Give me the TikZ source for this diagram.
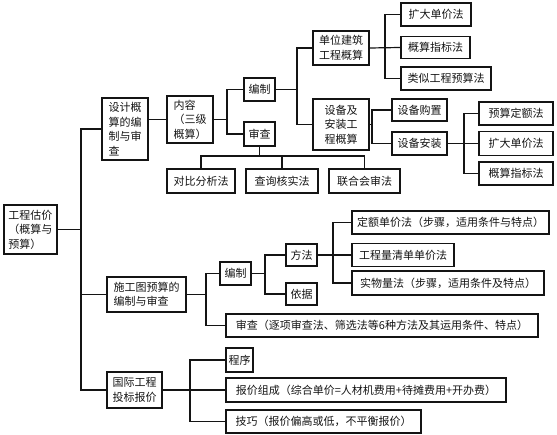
\documentclass[tikz,border=0pt]{standalone}
\usepackage{fontspec}
\setmainfont{Noto Sans CJK SC}
\usepackage{tikz}
\usetikzlibrary{positioning}
\definecolor{inkc}{RGB}{20,20,20}
\tikzset{
  box/.style={draw=inkc, line width=1.3pt, inner sep=0pt, align=left,
    text=inkc, font=\fontsize{11}{14.5}\selectfont},
  link/.style={draw=inkc, line width=1.2pt}
}

\begin{document}
\begin{tikzpicture}[x=1pt, y=-1pt]
  \useasboundingbox (0,0) rectangle (557,435);
  \node[box, minimum width=53pt, minimum height=49pt] (root) at (30.5,229.5) {工程估价\\（概算与\\预算）};
  \node[box, minimum width=46pt, minimum height=62pt] (d1) at (125,129) {设计概\\算的编\\制与审\\查};
  \node[box, minimum width=46pt, minimum height=47pt] (d2) at (190,119.5) {内容\\（三级\\概算）};
  \node[box, minimum width=31pt, minimum height=23pt] (bz) at (259.5,89.5) {编制};
  \node[box, minimum width=31pt, minimum height=24pt] (sc) at (259.5,134) {审查};
  \node[box, minimum width=56pt, minimum height=34pt] (dw) at (341,48) {单位建筑\\工程概算};
  \node[box, minimum width=56pt, minimum height=51pt] (sb) at (341,124.5) {设备及\\安装工\\程概算};
  \node[box, minimum width=70pt, minimum height=23pt] (a1) at (436,14.5) {扩大单价法};
  \node[box, minimum width=69pt, minimum height=22pt] (a2) at (435.5,47.5) {概算指标法};
  \node[box, minimum width=90pt, minimum height=23pt] (a3) at (446,78.5) {类似工程预算法};
  \node[box, minimum width=55pt, minimum height=22pt] (b1) at (419.5,110) {设备购置};
  \node[box, minimum width=55pt, minimum height=23pt] (b2) at (419.5,143.5) {设备安装};
  \node[box, minimum width=74pt, minimum height=23pt] (c1) at (516,113.5) {预算定额法};
  \node[box, minimum width=74pt, minimum height=24pt] (c2) at (516,143.5) {扩大单价法};
  \node[box, minimum width=74pt, minimum height=23pt] (c3) at (516,173.5) {概算指标法};
  \node[box, minimum width=68pt, minimum height=24pt] (e1) at (201,181) {对比分析法};
  \node[box, minimum width=72pt, minimum height=24pt] (e2) at (282,181) {查询核实法};
  \node[box, minimum width=71pt, minimum height=24pt] (e3) at (364.5,181) {联合会审法};
  \node[box, minimum width=79pt, minimum height=35pt] (s1) at (146.5,294.5) {施工图预算的\\编制与审查};
  \node[box, minimum width=31pt, minimum height=23pt] (t1) at (235.5,273.5) {编制};
  \node[box, minimum width=312pt, minimum height=23pt] (t2) at (382,325.5) {审查（逐项审查法、筛选法等6种方法及其运用条件、特点）};
  \node[box, minimum width=31pt, minimum height=22pt] (u1) at (301.5,255) {方法};
  \node[box, minimum width=31pt, minimum height=22pt] (u2) at (301.5,294) {依据};
  \node[box, minimum width=197pt, minimum height=23pt] (v1) at (450.5,222.5) {定额单价法（步骤，适用条件与特点）};
  \node[box, minimum width=102pt, minimum height=23pt] (v2) at (403,255) {工程量清单单价法};
  \node[box, minimum width=192pt, minimum height=24pt] (v3) at (448,283) {实物量法（步骤，适用条件及特点）};
  \node[box, minimum width=55pt, minimum height=36pt] (g1) at (134.5,390) {国际工程\\投标报价};
  \node[box, minimum width=27pt, minimum height=24pt] (h1) at (239.5,360) {程序};
  \node[box, minimum width=280pt, minimum height=24pt] (h2) at (366,390) {报价组成（综合单价=人材机费用+待摊费用+开办费）};
  \node[box, minimum width=195pt, minimum height=23pt] (h3) at (323.5,421.5) {技巧（报价偏高或低，不平衡报价）};

  \coordinate (trunk) at (81,229.5);
  \coordinate (f1) at (227,119.5);
  \coordinate (f2) at (297,89.5);
  \coordinate (f3) at (385,47.5);
  \coordinate (f4) at (372,124.5);
  \coordinate (f5) at (464,143.5);
  \coordinate (f6) at (259.5,156);
  \coordinate (f7) at (206,294.5);
  \coordinate (f8) at (265,273.5);
  \coordinate (f9) at (333,255);
  \coordinate (f10) at (190,390);

  \draw[link] (root.east) -- (trunk);
  \draw[link] (d1.west) -| (trunk) |- (g1.west);
  \draw[link] (trunk) |- (s1.west);
  \draw[link] (d1.east |- d2.west) -- (d2.west);
  \draw[link] (d2.east) -- (f1);
  \draw[link] (bz.west) -| (f1) |- (sc.west);
  \draw[link] (bz.east) -- (f2);
  \draw[link] (dw.west) -| (f2) |- (sb.west);
  \draw[link] (dw.east) -- (a2.west);
  \draw[link] (a1.west) -| (f3) |- (a3.west);
  \draw[link] (sb.east) -- (f4);
  \draw[link] (b1.west) -| (f4) |- (b2.west);
  \draw[link] (b2.east) -- (c2.west);
  \draw[link] (c1.west) -| (f5) |- (c3.west);
  \draw[link] (sc.south) -- (f6);
  \draw[link] (e1.north) |- (f6) -| (e3.north);
  \draw[link] (e2.north) -- (e2.north |- f6);
  \draw[link] (s1.east) -- (f7);
  \draw[link] (t1.west) -| (f7) |- (t2.west);
  \draw[link] (t1.east) -- (f8);
  \draw[link] (u1.west) -| (f8) |- (u2.west);
  \draw[link] (u1.east) -- (v2.west);
  \draw[link] (v1.west) -| (f9) |- (v3.west);
  \draw[link] (g1.east) -- (h2.west);
  \draw[link] (h1.west) -| (f10) |- (h3.west);
\end{tikzpicture}
\end{document}
